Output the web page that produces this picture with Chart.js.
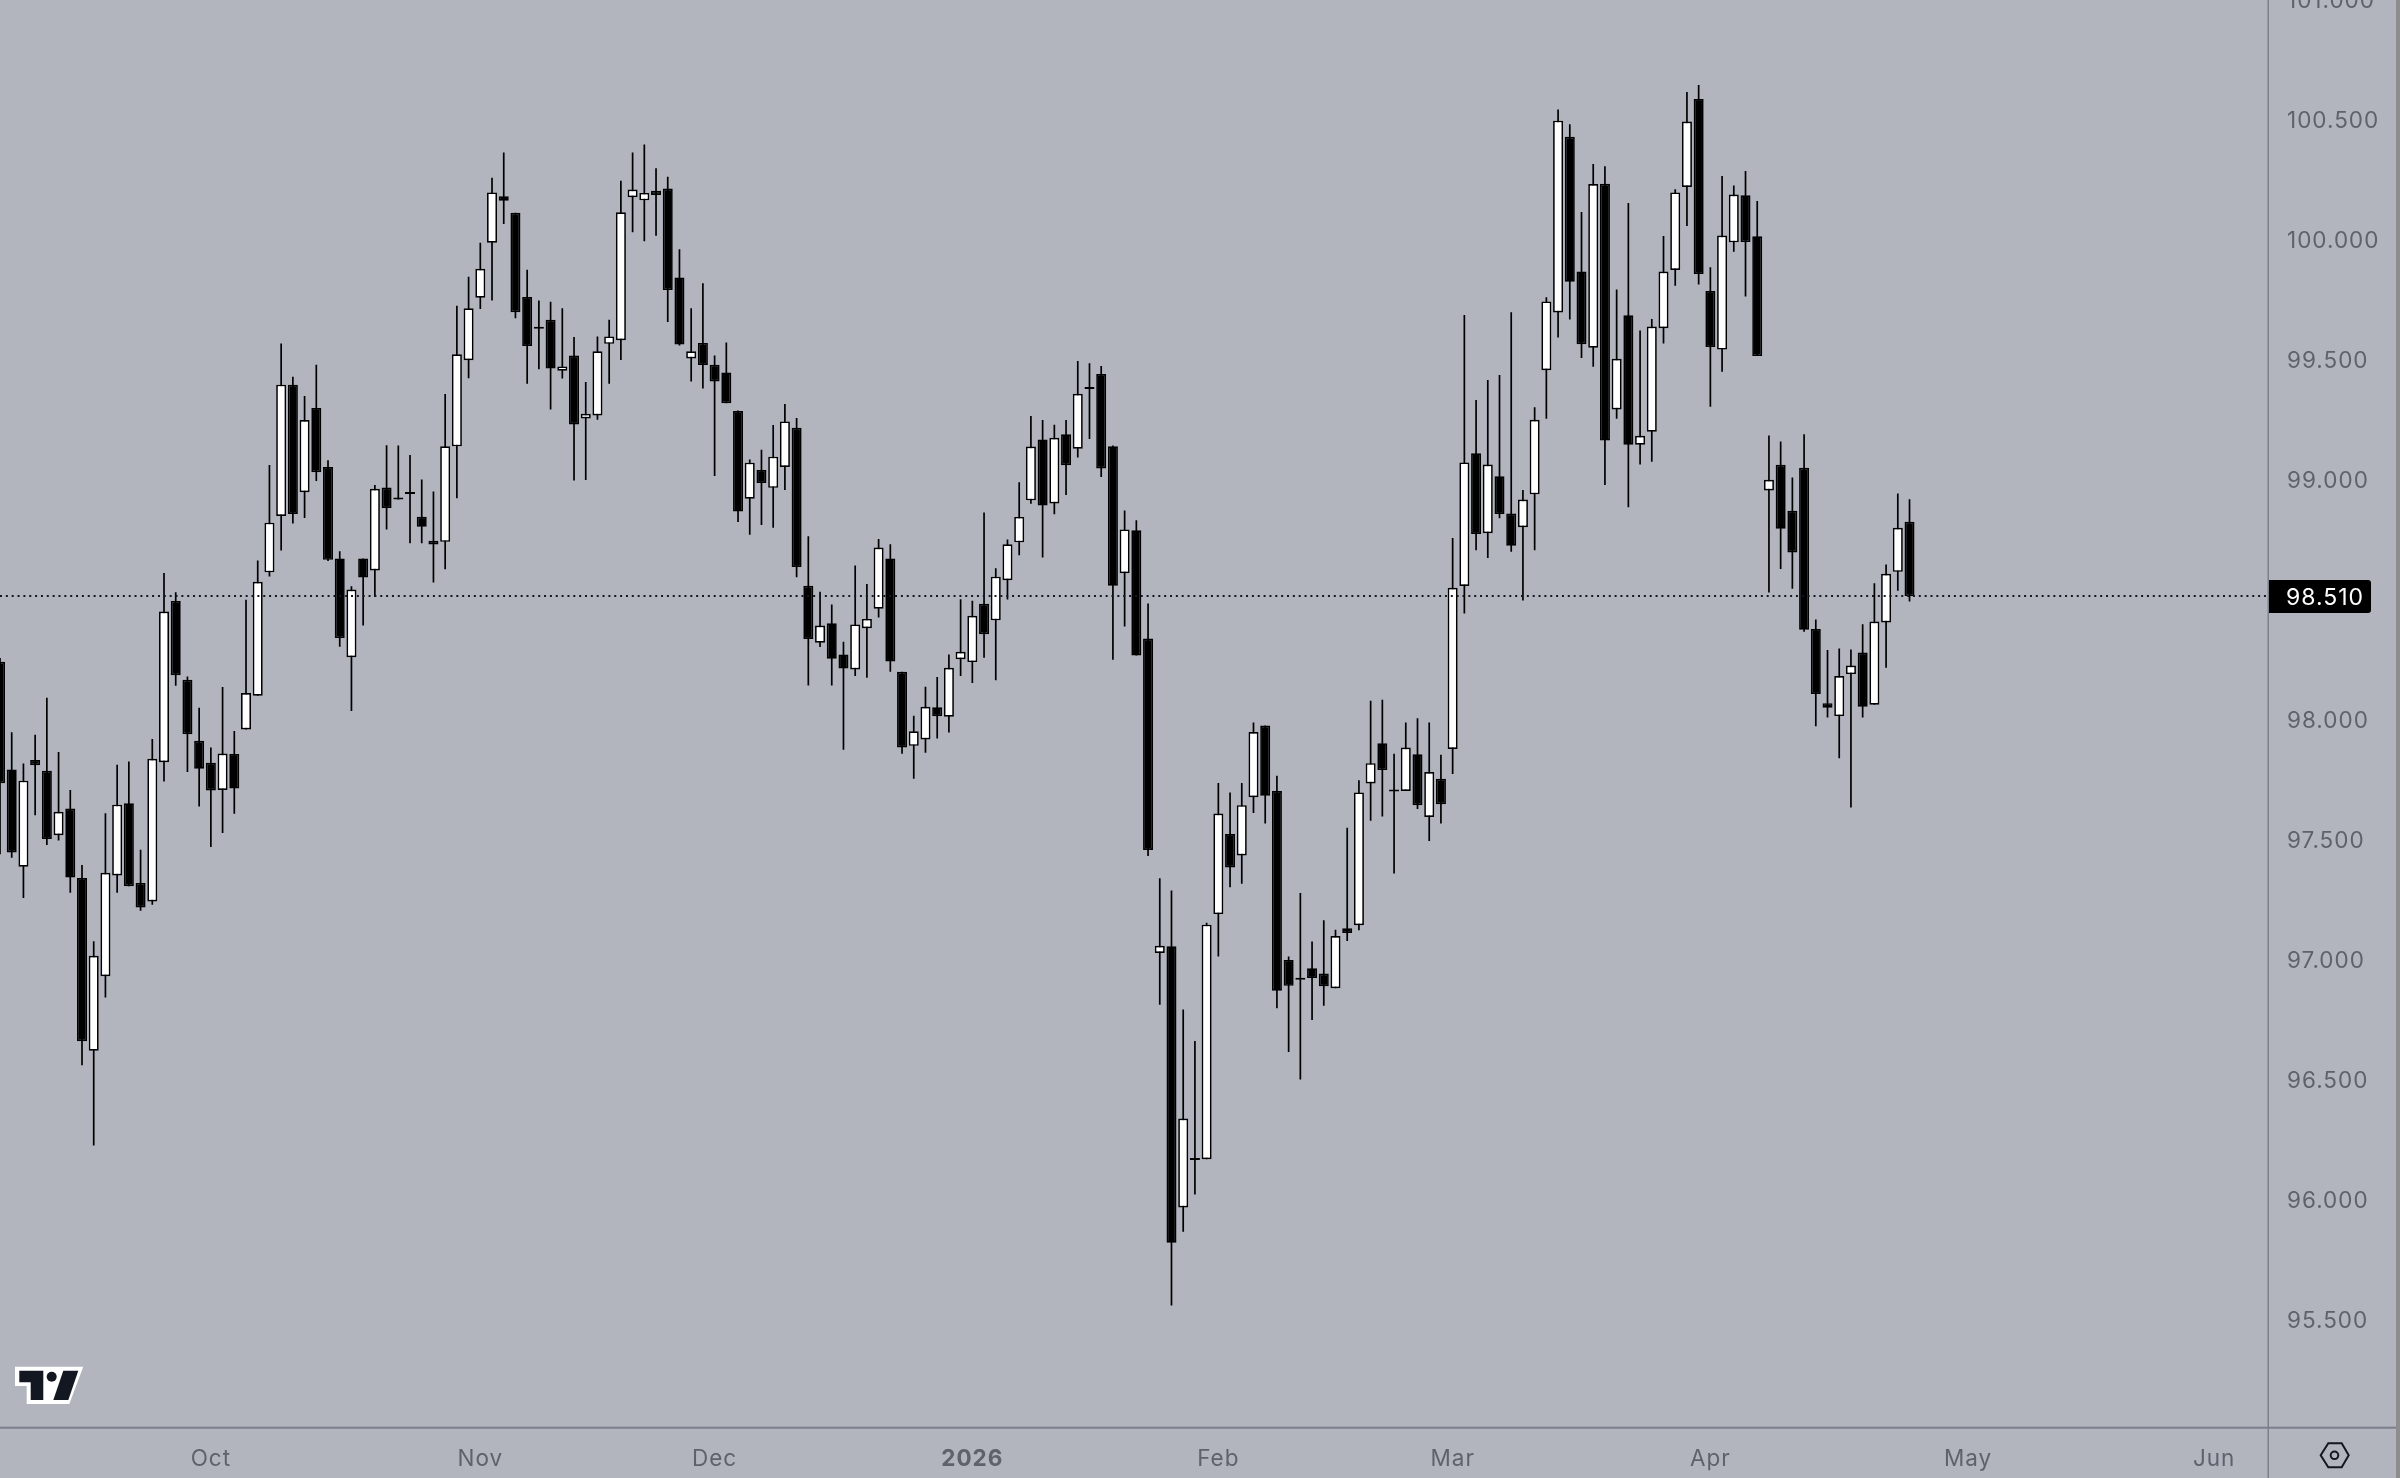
<!DOCTYPE html>
<html>
<head>
<meta charset="utf-8">
<title>Candles</title>
<script src="https://cdn.jsdelivr.net/npm/chart.js@4"></script>
<style>
  html, body { margin: 0; padding: 0; width: 2400px; height: 1478px; overflow: hidden; background: #b2b5be; }
  #chart { position: absolute; left: 0; top: -12px; }
  #icons { position: absolute; left: 0; top: 0; }
</style>
</head>
<body>
<canvas id="chart" width="2400" height="1490" style="width:2400px;height:1490px"></canvas>
<svg id="icons" width="2400" height="1478">
  <g transform="translate(0,1340)">
    <polygon points="15,26.7 83.3,26.7 69.3,64 26.7,64 26.7,46 15,46" fill="#fff"/>
    <polygon points="19.3,30.7 43.3,30.7 43.3,60 30.7,60 30.7,42.3 19.3,42.3" fill="#131722"/>
    <polygon points="63.3,30.7 78.3,30.7 68.3,60 53.3,60" fill="#131722"/>
    <circle cx="51.7" cy="36.7" r="5" fill="#131722"/>
  </g>
  <polygon points="2320.7,1455.3 2328.3,1443.3 2341.7,1443.3 2348.7,1455.3 2341.7,1467.3 2328.3,1467.3" fill="none" stroke="#131722" stroke-width="2"/>
  <circle cx="2334.5" cy="1455.3" r="3.8" fill="none" stroke="#131722" stroke-width="2"/>
</svg>
<script>
var opens = [98.236,97.788,97.382,97.827,97.782,97.514,97.625,97.335,96.616,96.926,
97.346,97.647,97.315,97.238,97.818,98.490,98.161,97.907,97.816,97.702,
97.852,97.954,98.095,98.609,98.844,99.391,98.943,99.294,99.048,98.667,
98.255,98.667,98.617,98.962,98.918,98.940,98.841,98.741,98.736,99.134,
99.493,99.753,99.982,100.176,100.107,99.756,99.630,99.661,99.449,99.512,
99.250,99.263,99.561,99.576,100.172,100.159,100.199,100.208,99.838,99.500,
99.565,99.474,99.442,99.281,98.916,99.035,98.961,99.048,99.211,98.553,
98.316,98.397,98.267,98.204,98.376,98.457,98.667,98.195,97.886,97.913,
98.047,98.007,98.247,98.235,98.478,98.409,98.576,98.734,98.909,99.163,
98.896,99.184,99.124,99.373,99.435,99.134,98.605,98.784,98.333,97.023,
97.051,95.963,96.160,96.164,97.185,97.519,97.429,97.672,97.971,97.698,
96.994,96.917,96.959,96.937,96.876,97.126,97.139,97.729,97.897,97.702,
97.698,97.851,97.590,97.749,97.873,98.552,99.105,98.772,99.009,98.854,
98.797,98.934,99.451,99.692,100.424,99.863,99.545,100.228,99.288,99.680,
99.141,99.195,99.626,99.869,100.215,100.581,99.781,99.537,99.984,100.180,
100.009,98.950,99.057,98.866,99.045,98.373,98.064,98.010,98.185,98.275,
98.057,98.400,98.611,98.820];

var highs = [98.252,97.943,97.813,97.932,98.086,97.860,97.702,97.390,97.072,97.605,
97.807,97.821,97.453,97.915,98.606,98.526,98.175,98.045,97.879,98.131,
97.948,98.495,98.658,99.056,99.562,99.424,99.344,99.474,99.076,98.697,
98.551,98.667,98.973,99.139,99.137,99.098,98.996,98.946,99.352,99.720,
99.841,99.982,100.253,100.358,100.107,99.870,99.742,99.736,99.709,99.590,
99.402,99.592,99.661,100.241,100.358,100.392,100.293,100.257,99.955,99.709,
99.814,99.512,99.567,99.283,99.079,99.120,99.223,99.310,99.252,98.759,
98.528,98.475,98.320,98.638,98.560,98.748,98.726,98.195,98.011,98.132,
98.173,98.267,98.497,98.491,98.858,98.626,98.746,98.984,99.260,99.244,
99.224,99.244,99.490,99.480,99.469,99.138,98.867,98.826,98.479,97.334,
97.283,96.787,96.656,97.149,97.731,97.692,97.731,97.983,97.971,97.761,
97.008,97.273,97.071,97.159,97.120,97.545,97.743,98.074,98.078,97.853,
97.983,98.001,97.983,97.849,98.752,99.681,99.327,99.410,99.431,99.693,
98.952,99.297,99.755,100.538,100.476,100.110,100.310,100.301,99.788,100.148,
99.617,99.665,100.010,100.205,100.610,100.640,99.880,100.260,100.221,100.281,
100.156,99.179,99.154,99.004,99.184,98.413,98.285,98.292,98.288,98.393,
98.564,98.642,98.938,98.914];

var lows = [97.434,97.420,97.252,97.597,97.473,97.492,97.274,96.555,96.221,96.837,
97.274,97.301,97.199,97.224,97.738,98.136,97.777,97.633,97.465,97.523,
97.603,97.954,98.095,98.592,98.700,98.813,98.835,98.990,98.656,98.299,
98.031,98.388,98.506,98.788,98.913,98.730,98.730,98.567,98.622,98.918,
99.418,99.706,99.742,100.060,99.668,99.395,99.455,99.287,99.417,98.992,
98.994,99.245,99.395,99.494,100.026,99.989,100.011,99.652,99.554,99.404,
99.375,99.010,99.314,98.819,98.766,98.806,98.795,98.952,98.589,98.137,
98.298,98.137,97.870,98.177,98.170,98.421,98.195,97.853,97.749,97.857,
97.917,97.942,98.177,98.148,98.253,98.159,98.496,98.680,98.895,98.671,
98.851,98.931,99.087,99.165,99.006,98.245,98.383,98.262,97.427,96.807,
95.554,95.861,96.017,96.164,97.008,97.297,97.311,97.606,97.562,96.793,
96.610,96.496,96.744,96.803,96.876,97.073,97.118,97.574,97.592,97.354,
97.698,97.623,97.490,97.562,97.769,98.437,98.701,98.669,98.834,98.695,
98.492,98.701,99.249,99.587,99.662,99.502,99.466,98.973,99.249,98.880,
99.058,99.070,99.562,99.803,100.052,99.808,99.299,99.445,99.945,99.758,
99.510,98.525,98.623,98.541,98.361,97.968,98.004,97.834,97.629,98.004,
98.057,98.211,98.532,98.488];

var closes = [97.730,97.442,97.741,97.805,97.498,97.611,97.337,96.655,97.011,97.357,
97.641,97.301,97.213,97.832,98.446,98.180,97.934,97.791,97.700,97.854,
97.708,98.106,98.570,98.816,99.391,98.852,99.244,99.026,98.661,98.335,
98.537,98.587,98.957,98.877,98.913,98.935,98.799,98.725,99.134,99.518,
99.709,99.874,100.192,100.157,99.693,99.552,99.624,99.458,99.467,99.225,
99.270,99.530,99.592,100.109,100.204,100.190,100.181,99.785,99.558,99.530,
99.473,99.404,99.314,98.862,99.066,98.981,99.091,99.238,98.631,98.331,
98.387,98.249,98.208,98.392,98.415,98.712,98.237,97.879,97.947,98.049,
98.009,98.211,98.278,98.428,98.351,98.591,98.726,98.840,99.133,98.887,
99.170,99.055,99.353,99.377,99.042,98.553,98.788,98.262,97.452,97.053,
95.816,96.333,96.164,97.141,97.604,97.379,97.639,97.944,97.678,96.866,
96.886,96.911,96.919,96.884,97.094,97.106,97.692,97.814,97.785,97.696,
97.879,97.639,97.777,97.643,98.545,99.067,98.769,99.058,98.852,98.720,
98.912,99.245,99.738,100.491,99.820,99.559,100.227,99.158,99.499,99.141,
99.178,99.633,99.862,100.192,100.487,99.852,99.548,100.012,100.183,99.985,
99.510,98.995,98.791,98.692,98.370,98.102,98.045,98.177,98.221,98.049,
98.404,98.603,98.795,98.510];

var lastPrice = 98.510;
var priceTicks = [95.5,96,96.5,97,97.5,98,98.5,99,99.5,100,100.5,101];
// candle index where each month starts
var monthTicks = [18,41,61,83,104,124,146,168,189];
var monthLabels = ["Oct","Nov","Dec","2026","Feb","Mar","Apr","May","Jun"];

var lineColor = "#7c7f8c";
var textColor = "#5f626d";
var fontName = "Inter";

var wickData = highs.map(function(h, i) { return { x: i, y: [lows[i], h] }; });
var bodyData = opens.map(function(o, i) { return { x: i, y: [o, closes[i]] }; });

// axis lines, last price label and the strip at the right edge
var chrome = {
  id: "chrome",
  beforeDraw: function(chart) {
    chart.ctx.letterSpacing = "1px";
  },
  afterDraw: function(chart) {
    var ctx = chart.ctx;
    var y = chart.scales.y.getPixelForValue(lastPrice);
    var right = chart.chartArea.right;
    var bottom = chart.chartArea.bottom;
    ctx.save();
    ctx.fillStyle = lineColor;
    ctx.fillRect(right - 0.5, 0, 1.5, chart.height);
    ctx.fillRect(0, bottom - 1, 2396, 2);
    ctx.fillStyle = "#8d8d8d";
    ctx.fillRect(2396, 0, 4, chart.height);
    ctx.fillStyle = "#000";
    ctx.beginPath();
    ctx.roundRect(right + 1, y - 16, 102, 33, [0, 3, 3, 0]);
    ctx.fill();
    ctx.fillStyle = "#fff";
    ctx.font = "23px " + fontName;
    ctx.textAlign = "left";
    ctx.textBaseline = "middle";
    ctx.fillText(lastPrice.toFixed(3), 2286, y + 2);
    ctx.restore();
  }
};

new Chart(document.getElementById("chart"), {
  type: "bar",
  plugins: [chrome],
  data: {
    datasets: [
      {
        type: "line",
        data: [{ x: 0, y: lastPrice }, { x: 193.6, y: lastPrice }],
        borderColor: "#131722",
        borderWidth: 2,
        borderDash: [2, 3.85],
        pointRadius: 0,
        order: 0
      },
      {
        data: bodyData,
        barThickness: 10,
        minBarLength: 2,
        borderWidth: 1.7,
        borderSkipped: false,
        inflateAmount: 0,
        borderColor: "#000",
        backgroundColor: function(c) {
          return closes[c.dataIndex] > opens[c.dataIndex] ? "#fff" : "#000";
        },
        grouped: false,
        order: 1
      },
      {
        data: wickData,
        barThickness: 1.7,
        borderWidth: 0,
        inflateAmount: 0,
        backgroundColor: "#000",
        grouped: false,
        order: 2
      }
    ]
  },
  options: {
    responsive: false,
    animation: false,
    devicePixelRatio: 1,
    layout: { padding: { top: 10.5, left: 0, right: 0, bottom: 0 } },
    plugins: { legend: { display: false }, tooltip: { enabled: false } },
    scales: {
      x: {
        type: "linear",
        offset: false,
        min: 0,
        max: 193.6,
        grid: { display: false, drawTicks: false },
        border: { display: false },
        afterBuildTicks: function(scale) {
          scale.ticks = monthTicks.map(function(v) { return { value: v }; });
        },
        afterFit: function(scale) {
          scale.height = 50.3;
          scale.paddingLeft = 0;
          scale.paddingRight = 0;
        },
        ticks: {
          autoSkip: false,
          maxRotation: 0,
          padding: 18,
          color: textColor,
          font: function(c) {
            var isYear = c.tick && monthLabels[monthTicks.indexOf(c.tick.value)] === "2026";
            return { family: fontName, size: 22.5, weight: isYear ? "bold" : "normal" };
          },
          callback: function(v) { return monthLabels[monthTicks.indexOf(v)]; }
        }
      },
      y: {
        type: "linear",
        position: "right",
        min: 95.045,
        max: 101,
        grid: { display: false, drawTicks: false },
        border: { display: false },
        afterBuildTicks: function(scale) {
          scale.ticks = priceTicks.map(function(v) { return { value: v }; });
        },
        afterFit: function(scale) {
          scale.width = 132;
          scale.paddingTop = 0;
          scale.paddingBottom = 0;
        },
        ticks: {
          autoSkip: false,
          padding: 19,
          labelOffset: 2.5,
          color: textColor,
          font: { family: fontName, size: 22.5 },
          callback: function(v) { return v.toFixed(3); }
        }
      }
    }
  }
});
</script>
</body>
</html>
